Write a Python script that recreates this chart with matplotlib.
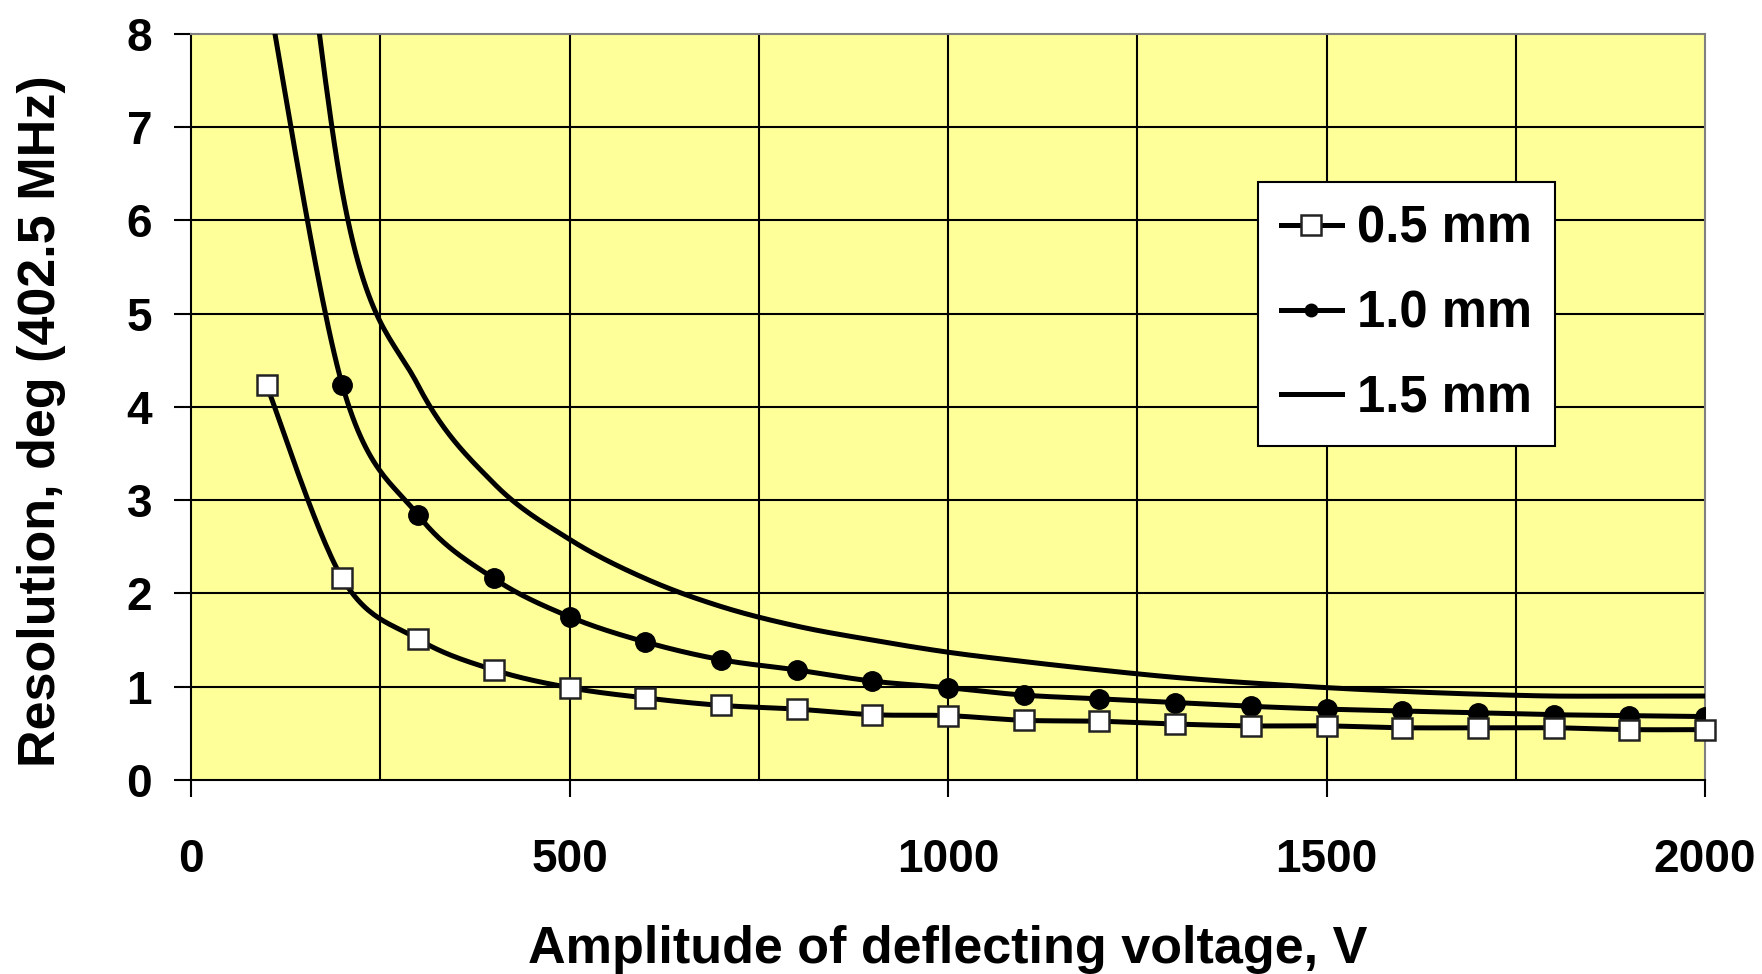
import numpy as np
import matplotlib
matplotlib.use("Agg")
import matplotlib.pyplot as plt
from matplotlib.lines import Line2D

voltage = [100, 200, 300, 400, 500, 600, 700, 800, 900, 1000,
           1100, 1200, 1300, 1400, 1500, 1600, 1700, 1800, 1900, 2000]
res_05 = [4.23, 2.16, 1.51, 1.18, 0.99, 0.88, 0.80, 0.76, 0.70, 0.69,
          0.64, 0.63, 0.60, 0.58, 0.58, 0.56, 0.56, 0.56, 0.54, 0.54]
res_10 = [8.5, 4.23, 2.84, 2.16, 1.75, 1.48, 1.29, 1.18, 1.06, 0.99,
          0.91, 0.87, 0.83, 0.79, 0.76, 0.74, 0.72, 0.70, 0.69, 0.68]
res_15 = [13.0, 6.3, 4.23, 3.18, 2.58, 2.16, 1.86, 1.65, 1.50, 1.37,
          1.27, 1.18, 1.10, 1.04, 0.99, 0.95, 0.92, 0.90, 0.90, 0.90]

labels = ["0.5 mm", "1.0 mm", "1.5 mm"]
x_ticks = [0, 500, 1000, 1500, 2000]
y_ticks = [0, 1, 2, 3, 4, 5, 6, 7, 8]
xlabel = "Amplitude of deflecting voltage, V"
ylabel = "Resolution, deg (402.5 MHz)"

FONT = "Liberation Sans"
FS = 33
FS_TITLE = 37.5
FS_LEG = 36.5


def smooth(x, y, n=30):
    """Excel-style smoothed line (cubic Bezier / Catmull-Rom) through points."""
    P = np.column_stack([x, y]).astype(float)
    out = [P[0]]
    t = np.linspace(0, 1, n)[1:, None]
    for i in range(len(P) - 1):
        p0 = P[i - 1] if i > 0 else P[i]
        p1 = P[i]
        p2 = P[i + 1]
        p3 = P[i + 2] if i + 2 < len(P) else P[i + 1]
        c1 = p1 + (p2 - p0) / 6.0
        c2 = p2 - (p3 - p1) / 6.0
        seg = ((1 - t) ** 3) * p1 + 3 * ((1 - t) ** 2) * t * c1 + 3 * (1 - t) * t ** 2 * c2 + t ** 3 * p2
        out.extend(seg)
    out = np.array(out)
    return out[:, 0], out[:, 1]


fig = plt.figure(figsize=(17.62, 9.74), dpi=100)
fig.patch.set_facecolor("white")
ax = fig.add_axes([191 / 1762, 1 - 780 / 974, (1705 - 191) / 1762, (780 - 33.7) / 974])
ax.set_facecolor("#FFFF99")
ax.set_xlim(0, 2000)
ax.set_ylim(0, 8)

# grid
for gx in np.arange(250, 2000, 250):
    ax.axvline(gx, color="black", lw=1.5, zorder=1)
for gy in y_ticks[1:-1]:
    ax.axhline(gy, color="black", lw=1.5, zorder=1)

lw = 3.6
# 1.5 mm
sx, sy = smooth(voltage, res_15)
ax.plot(sx, sy, color="black", lw=lw, zorder=3)
# 1.0 mm
sx, sy = smooth(voltage, res_10)
ax.plot(sx, sy, color="black", lw=lw, zorder=3)
ax.plot(voltage, res_10, linestyle="none", marker="o", ms=14, mfc="black", mec="black", zorder=4)
# 0.5 mm
sx, sy = smooth(voltage, res_05)
ax.plot(sx, sy, color="black", lw=lw, zorder=3)
ax.plot(voltage, res_05, linestyle="none", marker="s", ms=14.5, mfc="white", mec="#222222", mew=1.8, zorder=5,
        clip_on=False)

ax.set_xticks(x_ticks)
ax.set_yticks(y_ticks)
ax.set_xticklabels([str(v) for v in x_ticks], fontfamily=FONT, fontweight="bold", fontsize=FS)
ax.set_yticklabels([str(v) for v in y_ticks], fontfamily=FONT, fontweight="bold", fontsize=FS)
ax.tick_params(axis="x", direction="out", length=12, width=1.5, pad=30)
ax.tick_params(axis="y", direction="out", length=12, width=1.5, pad=16)

for side in ["top", "right"]:
    ax.spines[side].set_color("#808080")
    ax.spines[side].set_linewidth(1.5)
for side in ["left", "bottom"]:
    ax.spines[side].set_color("black")
    ax.spines[side].set_linewidth(1.5)

fig.text(0.5 * (191 + 1705) / 1762, 1 - 950 / 974, xlabel, ha="center", va="center",
         fontfamily=FONT, fontweight="bold", fontsize=FS_TITLE)
fig.text(42 / 1762, 1 - 421 / 974, ylabel, ha="center", va="center", rotation=90,
         fontfamily=FONT, fontweight="bold", fontsize=FS_TITLE)

handles = [
    Line2D([], [], color="black", lw=lw, marker="s", ms=14, mfc="white", mec="#222222", mew=1.8),
    Line2D([], [], color="black", lw=lw, marker="o", ms=9, mfc="black", mec="black"),
    Line2D([], [], color="black", lw=lw),
]
leg = fig.legend(handles, labels, loc="upper left",
                 bbox_to_anchor=(1258 / 1762, 1 - 182 / 974), bbox_transform=fig.transFigure,
                 borderaxespad=0, frameon=True, fancybox=False, shadow=False,
                 prop={"family": FONT, "weight": "bold", "size": FS_LEG},
                 handlelength=1.2, handletextpad=0.3, labelspacing=0.7, borderpad=0.45,
                 markerscale=1)
leg.get_frame().set_edgecolor("black")
leg.get_frame().set_linewidth(1.5)
leg.get_frame().set_facecolor("white")
leg.get_frame().set_alpha(1)

fig.savefig("out.png", dpi=100, facecolor="white")
